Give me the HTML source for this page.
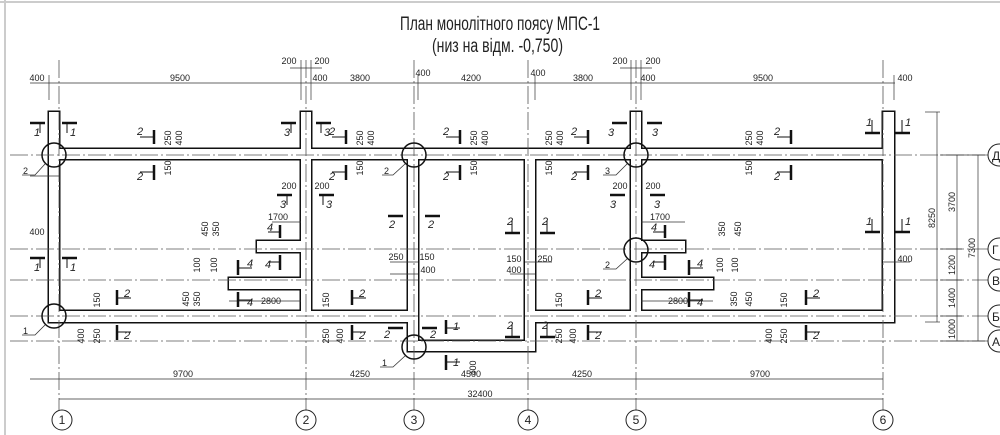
<!DOCTYPE html>
<html><head><meta charset="utf-8"><style>
html,body{margin:0;padding:0;background:#fff}
svg{display:block}
text{font-family:"Liberation Sans Narrow","Liberation Sans",sans-serif;fill:#222}
.s{font-size:9px}
.n{font-size:11px;font-style:italic}
</style></head><body>
<svg width="1000" height="435" viewBox="0 0 1000 435" xmlns="http://www.w3.org/2000/svg">
<rect x="0" y="0" width="1000" height="435" fill="#fff"/>
<line x1="0" y1="2" x2="1000" y2="2" stroke="#ccc" stroke-width="2"/>
<line x1="5" y1="0" x2="5" y2="435" stroke="#ccc" stroke-width="2"/>
<text x="400" y="30" font-size="19" textLength="200" lengthAdjust="spacingAndGlyphs">План монолітного поясу МПС-1</text>
<text x="432" y="52" font-size="19" textLength="131" lengthAdjust="spacingAndGlyphs">(низ на відм. -0,750)</text>

<!-- walls: stroke pass -->
<g stroke="#111" stroke-width="3" fill="#111">
<rect x="49" y="112" width="10" height="210"/>
<rect x="49" y="149" width="845" height="10"/>
<rect x="49" y="311" width="359" height="11"/>
<rect x="535" y="311" width="359" height="11"/>
<rect x="301" y="112" width="10" height="199"/>
<rect x="408" y="155" width="10" height="196"/>
<rect x="408" y="341" width="127" height="10"/>
<rect x="525" y="155" width="10" height="196"/>
<rect x="631" y="112" width="10" height="199"/>
<rect x="883" y="112" width="11" height="210"/>
<rect x="257" y="241" width="50" height="11"/>
<rect x="229" y="278" width="78" height="11"/>
<rect x="636" y="241" width="49" height="11"/>
<rect x="636" y="278" width="77" height="11"/>
</g>
<g fill="#fff">
<rect x="49" y="112" width="10" height="210"/>
<rect x="49" y="149" width="845" height="10"/>
<rect x="49" y="311" width="359" height="11"/>
<rect x="535" y="311" width="359" height="11"/>
<rect x="301" y="112" width="10" height="199"/>
<rect x="408" y="155" width="10" height="196"/>
<rect x="408" y="341" width="127" height="10"/>
<rect x="525" y="155" width="10" height="196"/>
<rect x="631" y="112" width="10" height="199"/>
<rect x="883" y="112" width="11" height="210"/>
<rect x="257" y="241" width="50" height="11"/>
<rect x="229" y="278" width="78" height="11"/>
<rect x="636" y="241" width="49" height="11"/>
<rect x="636" y="278" width="77" height="11"/>
</g>

<!-- axis lines -->
<g stroke="#555" stroke-width="0.8" stroke-dasharray="18,3,2,3" fill="none">
<line x1="10" y1="155" x2="990" y2="155"/>
<line x1="10" y1="249" x2="990" y2="249"/>
<line x1="10" y1="280" x2="990" y2="280"/>
<line x1="10" y1="316" x2="990" y2="316"/>
<line x1="10" y1="341" x2="990" y2="341"/>
<line x1="59" y1="60" x2="59" y2="410"/>
<line x1="306" y1="60" x2="306" y2="410"/>
<line x1="414" y1="60" x2="414" y2="410"/>
<line x1="528" y1="60" x2="528" y2="410"/>
<line x1="636" y1="60" x2="636" y2="410"/>
<line x1="883" y1="60" x2="883" y2="410"/>
</g>

<!-- node circles -->
<g stroke="#111" stroke-width="1.5" fill="none">
<circle cx="54" cy="155" r="12"/><circle cx="54" cy="316" r="12"/>
<circle cx="414" cy="155" r="12"/><circle cx="414" cy="347" r="12"/>
<circle cx="636" cy="155" r="12"/><circle cx="636" cy="250" r="12"/>
</g>
<g stroke="#333" stroke-width="0.8" fill="none">
<polyline points="22,175 35,175 45,164"/><polyline points="22,335 35,335 45,325"/>
<polyline points="382,175 393,175 405,164"/><polyline points="380,367 393,367 405,356"/>
<polyline points="603,175 616,175 627,164"/><polyline points="603,269 616,269 627,259"/>
</g>
<g class="s"><text x="23" y="174">2</text><text x="23" y="334">1</text><text x="384" y="174">2</text><text x="382" y="366">1</text><text x="605" y="174">3</text><text x="605" y="268">2</text></g>

<!-- dimension lines -->
<g stroke="#333" stroke-width="0.7" fill="none">
<line x1="30" y1="83" x2="895" y2="83"/>
<line x1="30" y1="379" x2="883" y2="379"/>
<line x1="59" y1="399" x2="883" y2="399"/>
<line x1="937" y1="112" x2="937" y2="322"/><line x1="925" y1="112" x2="940" y2="112"/><line x1="925" y1="322" x2="940" y2="322"/>
<line x1="957" y1="155" x2="957" y2="341"/>
<line x1="978" y1="155" x2="978" y2="341"/>
<line x1="940" y1="155" x2="985" y2="155"/><line x1="940" y1="249" x2="962" y2="249"/><line x1="940" y1="280" x2="962" y2="280"/><line x1="940" y1="316" x2="962" y2="316"/><line x1="940" y1="341" x2="985" y2="341"/>
<line x1="49" y1="75" x2="49" y2="100"/><line x1="301" y1="75" x2="301" y2="100"/><line x1="311" y1="60" x2="311" y2="100"/><line x1="301" y1="60" x2="301" y2="75"/>
<line x1="418" y1="75" x2="418" y2="100"/><line x1="535" y1="75" x2="535" y2="100"/>
<line x1="631" y1="60" x2="631" y2="100"/><line x1="641" y1="60" x2="641" y2="100"/><line x1="894" y1="75" x2="894" y2="100"/>
<line x1="290" y1="68" x2="322" y2="68"/><line x1="620" y1="68" x2="652" y2="68"/>
<line x1="30" y1="176" x2="60" y2="176"/>
<line x1="272" y1="222" x2="301" y2="222"/><line x1="641" y1="222" x2="685" y2="222"/>
<line x1="229" y1="301" x2="301" y2="301"/><line x1="641" y1="301" x2="713" y2="301"/>
<line x1="390" y1="262" x2="418" y2="262"/><line x1="390" y1="274" x2="418" y2="274"/>
<line x1="525" y1="262" x2="552" y2="262"/><line x1="510" y1="274" x2="535" y2="274"/>
<line x1="883" y1="262" x2="910" y2="262"/>
</g>
<g class="s" text-anchor="middle">
<text x="37" y="81">400</text><text x="180" y="81">9500</text><text x="320" y="81">400</text><text x="360" y="81">3800</text>
<text x="423" y="76">400</text><text x="471" y="81">4200</text><text x="538" y="76">400</text><text x="583" y="81">3800</text>
<text x="648" y="81">400</text><text x="763" y="81">9500</text><text x="905" y="81">400</text>
<text x="289" y="64">200</text><text x="322" y="64">200</text><text x="620" y="64">200</text><text x="653" y="64">200</text>
<text x="289" y="189">200</text><text x="322" y="189">200</text><text x="620" y="189">200</text><text x="653" y="189">200</text>
<text x="37" y="235">400</text><text x="905" y="262">400</text>
<text x="278" y="220">1700</text><text x="660" y="220">1700</text>
<text x="271" y="304">2800</text><text x="678" y="304">2800</text>
<text x="396" y="260">250</text><text x="427" y="260">150</text><text x="428" y="273">400</text>
<text x="514" y="262">150</text><text x="545" y="262">250</text><text x="514" y="273">400</text>
<text x="183" y="377">9700</text><text x="360" y="377">4250</text><text x="471" y="377">4500</text><text x="582" y="377">4250</text><text x="760" y="377">9700</text>
<text x="480" y="397">32400</text>
</g>
<g class="s" text-anchor="middle">
<text transform="translate(935,218) rotate(-90)">8250</text>
<text transform="translate(955,202) rotate(-90)">3700</text>
<text transform="translate(955,265) rotate(-90)">1200</text>
<text transform="translate(955,298) rotate(-90)">1400</text>
<text transform="translate(955,329) rotate(-90)">1000</text>
<text transform="translate(975,248) rotate(-90)">7300</text>
<text transform="translate(171,138) rotate(-90)">250</text><text transform="translate(182,138) rotate(-90)">400</text><text transform="translate(171,168) rotate(-90)">150</text>
<text transform="translate(363,138) rotate(-90)">250</text><text transform="translate(374,138) rotate(-90)">400</text><text transform="translate(363,168) rotate(-90)">150</text>
<text transform="translate(477,138) rotate(-90)">250</text><text transform="translate(488,138) rotate(-90)">400</text><text transform="translate(477,168) rotate(-90)">150</text>
<text transform="translate(552,138) rotate(-90)">250</text><text transform="translate(563,138) rotate(-90)">400</text><text transform="translate(552,168) rotate(-90)">150</text>
<text transform="translate(752,138) rotate(-90)">250</text><text transform="translate(763,138) rotate(-90)">400</text><text transform="translate(752,168) rotate(-90)">150</text>
<text transform="translate(100,300) rotate(-90)">150</text><text transform="translate(84,336) rotate(-90)">400</text><text transform="translate(100,336) rotate(-90)">250</text>
<text transform="translate(329,300) rotate(-90)">150</text><text transform="translate(329,336) rotate(-90)">250</text><text transform="translate(343,336) rotate(-90)">400</text>
<text transform="translate(562,300) rotate(-90)">150</text><text transform="translate(562,336) rotate(-90)">250</text><text transform="translate(576,336) rotate(-90)">400</text>
<text transform="translate(787,300) rotate(-90)">150</text><text transform="translate(772,336) rotate(-90)">400</text><text transform="translate(787,336) rotate(-90)">250</text>
<text transform="translate(476,368) rotate(-90)">400</text>
<text transform="translate(208,229) rotate(-90)">450</text><text transform="translate(219,229) rotate(-90)">350</text>
<text transform="translate(200,265) rotate(-90)">100</text><text transform="translate(217,265) rotate(-90)">100</text>
<text transform="translate(189,299) rotate(-90)">450</text><text transform="translate(200,299) rotate(-90)">350</text>
<text transform="translate(725,229) rotate(-90)">350</text><text transform="translate(741,229) rotate(-90)">450</text>
<text transform="translate(723,265) rotate(-90)">100</text><text transform="translate(738,265) rotate(-90)">100</text>
<text transform="translate(737,299) rotate(-90)">350</text><text transform="translate(752,299) rotate(-90)">450</text>
</g>

<!-- section marks -->
<g stroke="#111" stroke-width="2.5">
<line x1="30" y1="123" x2="45" y2="123"/><line x1="62" y1="123" x2="77" y2="123"/>
<line x1="30" y1="258" x2="45" y2="258"/><line x1="62" y1="258" x2="77" y2="258"/>
<line x1="281" y1="123" x2="296" y2="123"/><line x1="316" y1="123" x2="331" y2="123"/>
<line x1="277" y1="195" x2="292" y2="195"/><line x1="319" y1="195" x2="334" y2="195"/>
<line x1="388" y1="216" x2="403" y2="216"/><line x1="425" y1="216" x2="440" y2="216"/>
<line x1="612" y1="123" x2="627" y2="123"/><line x1="647" y1="123" x2="662" y2="123"/>
<line x1="610" y1="195" x2="625" y2="195"/><line x1="650" y1="195" x2="665" y2="195"/>
<line x1="865" y1="133" x2="880" y2="133"/><line x1="895" y1="133" x2="910" y2="133"/>
<line x1="865" y1="232" x2="880" y2="232"/><line x1="895" y1="232" x2="910" y2="232"/>
<line x1="505" y1="233" x2="520" y2="233"/><line x1="540" y1="233" x2="555" y2="233"/>
<line x1="505" y1="337" x2="520" y2="337"/><line x1="540" y1="337" x2="555" y2="337"/>
<line x1="388" y1="328" x2="403" y2="328"/><line x1="422" y1="328" x2="437" y2="328"/>
<line x1="154" y1="130" x2="154" y2="144"/><line x1="154" y1="165" x2="154" y2="180"/>
<line x1="346" y1="130" x2="346" y2="144"/><line x1="346" y1="165" x2="346" y2="180"/>
<line x1="460" y1="130" x2="460" y2="144"/><line x1="460" y1="165" x2="460" y2="180"/>
<line x1="588" y1="130" x2="588" y2="144"/><line x1="588" y1="165" x2="588" y2="180"/>
<line x1="791" y1="130" x2="791" y2="144"/><line x1="791" y1="165" x2="791" y2="180"/>
<line x1="117" y1="290" x2="117" y2="305"/><line x1="117" y1="325" x2="117" y2="340"/>
<line x1="352" y1="290" x2="352" y2="305"/><line x1="352" y1="325" x2="352" y2="340"/>
<line x1="588" y1="290" x2="588" y2="305"/><line x1="588" y1="325" x2="588" y2="340"/>
<line x1="806" y1="290" x2="806" y2="305"/><line x1="806" y1="325" x2="806" y2="340"/>
<line x1="280" y1="225" x2="280" y2="238"/><line x1="280" y1="255" x2="280" y2="270"/>
<line x1="238" y1="260" x2="238" y2="275"/><line x1="238" y1="292" x2="238" y2="307"/>
<line x1="665" y1="225" x2="665" y2="238"/><line x1="665" y1="255" x2="665" y2="270"/>
<line x1="689" y1="260" x2="689" y2="275"/><line x1="689" y1="292" x2="689" y2="307"/>
<line x1="446" y1="320" x2="446" y2="334"/><line x1="446" y1="355" x2="446" y2="370"/>
</g>
<g stroke="#111" stroke-width="1">
<line x1="40" y1="124" x2="40" y2="133"/><line x1="67" y1="124" x2="67" y2="133"/>
<line x1="40" y1="259" x2="40" y2="268"/><line x1="67" y1="259" x2="67" y2="268"/>
<line x1="291" y1="124" x2="291" y2="133"/><line x1="321" y1="124" x2="321" y2="133"/>
<line x1="287" y1="196" x2="287" y2="205"/><line x1="323" y1="196" x2="323" y2="205"/>
<line x1="140" y1="137" x2="153" y2="137"/><line x1="140" y1="172" x2="153" y2="172"/>
<line x1="332" y1="137" x2="345" y2="137"/><line x1="332" y1="172" x2="345" y2="172"/>
<line x1="446" y1="137" x2="459" y2="137"/><line x1="446" y1="172" x2="459" y2="172"/>
<line x1="574" y1="137" x2="587" y2="137"/><line x1="574" y1="172" x2="587" y2="172"/>
<line x1="777" y1="137" x2="790" y2="137"/><line x1="777" y1="172" x2="790" y2="172"/>
<line x1="118" y1="298" x2="131" y2="298"/><line x1="118" y1="332" x2="131" y2="332"/>
<line x1="353" y1="298" x2="366" y2="298"/><line x1="353" y1="332" x2="366" y2="332"/>
<line x1="589" y1="298" x2="602" y2="298"/><line x1="589" y1="332" x2="602" y2="332"/>
<line x1="807" y1="298" x2="820" y2="298"/><line x1="807" y1="332" x2="820" y2="332"/>
<line x1="872" y1="120" x2="872" y2="132"/><line x1="902" y1="120" x2="902" y2="132"/>
<line x1="872" y1="219" x2="872" y2="231"/><line x1="902" y1="219" x2="902" y2="231"/>
<line x1="512" y1="220" x2="512" y2="232"/><line x1="547" y1="220" x2="547" y2="232"/>
<line x1="512" y1="324" x2="512" y2="336"/><line x1="547" y1="324" x2="547" y2="336"/>
<line x1="268" y1="232" x2="279" y2="232"/><line x1="268" y1="262" x2="279" y2="262"/>
<line x1="239" y1="268" x2="252" y2="268"/><line x1="239" y1="300" x2="252" y2="300"/>
<line x1="653" y1="232" x2="664" y2="232"/><line x1="653" y1="262" x2="664" y2="262"/>
<line x1="690" y1="268" x2="703" y2="268"/><line x1="690" y1="300" x2="703" y2="300"/>
<line x1="447" y1="328" x2="460" y2="328"/><line x1="447" y1="362" x2="460" y2="362"/>
</g>
<g class="n">
<text x="34" y="136">1</text><text x="70" y="136">1</text><text x="34" y="271">1</text><text x="70" y="271">1</text>
<text x="284" y="136">3</text><text x="324" y="136">3</text><text x="280" y="208">3</text><text x="326" y="208">3</text>
<text x="389" y="228">2</text><text x="428" y="228">2</text>
<text x="608" y="136">3</text><text x="652" y="136">3</text><text x="610" y="208">3</text><text x="654" y="208">3</text>
<text x="866" y="126">1</text><text x="905" y="126">1</text><text x="866" y="225">1</text><text x="905" y="225">1</text>
<text x="507" y="225">2</text><text x="542" y="225">2</text><text x="507" y="329">2</text><text x="542" y="329">2</text>
<text x="137" y="135">2</text><text x="137" y="180">2</text><text x="329" y="135">2</text><text x="329" y="180">2</text>
<text x="443" y="135">2</text><text x="443" y="180">2</text><text x="571" y="135">2</text><text x="571" y="180">2</text>
<text x="774" y="135">2</text><text x="774" y="180">2</text>
<text x="124" y="297">2</text><text x="124" y="339">2</text><text x="359" y="297">2</text><text x="359" y="339">2</text>
<text x="595" y="297">2</text><text x="595" y="339">2</text><text x="813" y="297">2</text><text x="813" y="339">2</text>
<text x="267" y="231">4</text><text x="265" y="268">4</text><text x="247" y="267">4</text><text x="247" y="306">4</text>
<text x="651" y="231">4</text><text x="649" y="268">4</text><text x="697" y="267">4</text><text x="697" y="306">4</text>
<text x="453" y="330">1</text><text x="453" y="366">1</text><text x="384" y="338">2</text><text x="430" y="338">2</text>
</g>

<!-- axis bubbles -->
<g stroke="#222" stroke-width="1" fill="#fff">
<circle cx="62" cy="420" r="10"/><circle cx="306" cy="420" r="10"/><circle cx="414" cy="420" r="10"/>
<circle cx="528" cy="420" r="10"/><circle cx="636" cy="420" r="10"/><circle cx="883" cy="420" r="10"/>
<circle cx="999" cy="155" r="11"/><circle cx="999" cy="249" r="11"/><circle cx="999" cy="280" r="11"/>
<circle cx="999" cy="316" r="11"/><circle cx="999" cy="341" r="11"/>
</g>
<g font-size="12" text-anchor="middle">
<text x="62" y="424">1</text><text x="306" y="424">2</text><text x="414" y="424">3</text>
<text x="528" y="424">4</text><text x="636" y="424">5</text><text x="883" y="424">6</text>
</g>
<g font-size="12">
<text x="992" y="160">Д</text><text x="992" y="254">Г</text><text x="992" y="285">В</text><text x="992" y="321">Б</text><text x="992" y="346">А</text>
</g>
</svg>
</body></html>
